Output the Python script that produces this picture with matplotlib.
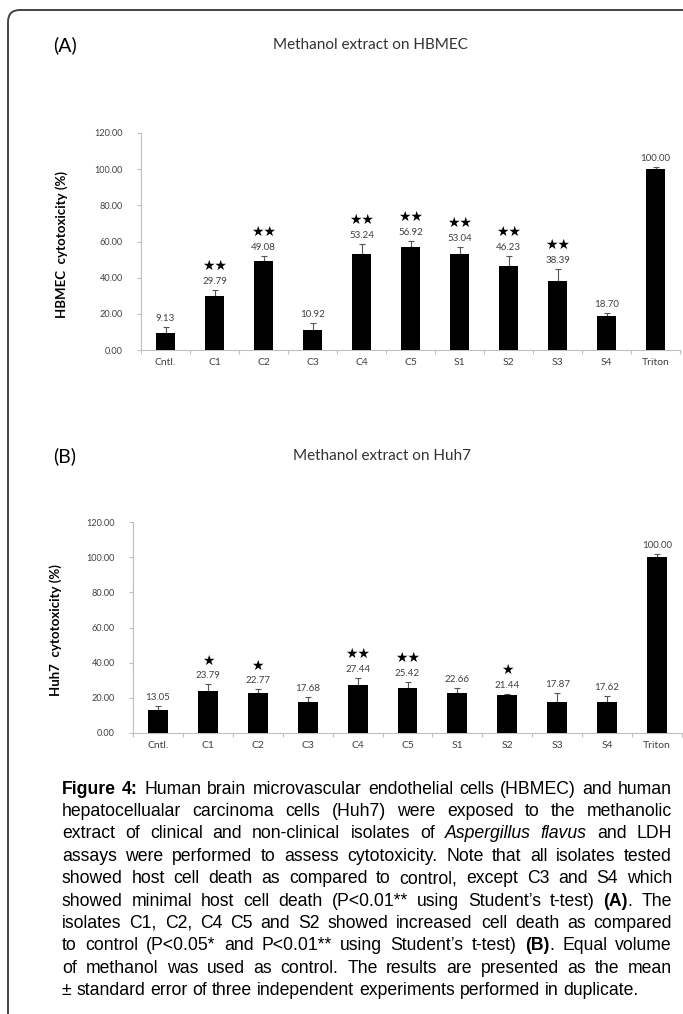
import re
import numpy as np
import matplotlib
matplotlib.use("Agg")
import matplotlib.pyplot as plt
from matplotlib.patches import FancyBboxPatch

W, H = 683, 1014

cats = ["Cntl.", "C1", "C2", "C3", "C4", "C5", "S1", "S2", "S3", "S4", "Triton"]

# panel A: HBMEC
hbmec = [9.13, 29.79, 49.08, 10.92, 53.24, 56.92, 53.04, 46.23, 38.39, 18.70, 100.00]
hbmec_err = [3.7, 3.5, 2.9, 3.8, 5.5, 3.3, 4.1, 5.6, 6.3, 1.8, 1.1]
hbmec_stars = ["", "★★", "★★", "", "★★", "★★", "★★", "★★", "★★", "", ""]

# panel B: Huh7
huh7 = [13.05, 23.79, 22.77, 17.68, 27.44, 25.42, 22.66, 21.44, 17.87, 17.62, 100.00]
huh7_err = [2.2, 3.8, 2.0, 2.7, 3.8, 3.5, 3.0, 0.7, 4.8, 3.2, 1.9]
huh7_stars = ["", "★", "★", "", "★★", "★★", "", "★", "", "", ""]

yticks = [0, 20, 40, 60, 80, 100, 120]

caption = [
    "<b>Figure 4:</b> Human brain microvascular endothelial cells (HBMEC) and human",
    "hepatocellualar carcinoma cells (Huh7) were exposed to the methanolic",
    "extract of clinical and non-clinical isolates of <i>Aspergillus flavus</i> and LDH",
    "assays were performed to assess cytotoxicity. Note that all isolates tested",
    "showed host cell death as compared to control, except C3 and S4 which",
    "showed minimal host cell death (P<0.01** using Student\u2019s t-test) <b>(A)</b>. The",
    "isolates C1, C2, C4 C5 and S2 showed increased cell death as compared",
    "to control (P<0.05* and P<0.01** using Student\u2019s t-test) <b>(B)</b>. Equal volume",
    "of methanol was used as control. The results are presented as the mean",
    "\u00b1 standard error of three independent experiments performed in duplicate.",
]

CH = "Lato"
GRAY = "#404040"

fig = plt.figure(figsize=(W / 100, H / 100), dpi=100)

# background frame (right side runs off the picture)
bg = fig.add_axes([0, 0, 1, 1], zorder=-5)
bg.set_xlim(0, W)
bg.set_ylim(H, 0)
bg.axis("off")
bg.add_patch(FancyBboxPatch((8, 10), 700, 1100, boxstyle="round,pad=0,rounding_size=12",
                            fill=False, ec="#444444", lw=1.4))


def px_axes(x0, y0, x1, y1):
    return fig.add_axes([x0 / W, 1 - y1 / H, (x1 - x0) / W, (y1 - y0) / H])


def panel(box, vals, errs, stars, letter, title, ylab, ylab_x, ylab_y, title_x, title_y):
    ax = px_axes(*box)
    x = np.arange(len(cats))
    ax.bar(x, vals, width=0.4, color="black", zorder=3,
           yerr=[np.zeros(len(vals)), errs], capsize=2,
           error_kw=dict(ecolor="#555555", elinewidth=0.8, capthick=0.8, zorder=2))
    ax.set_xlim(-0.5, len(cats) - 0.5)
    ax.set_ylim(0, 120)
    ax.set_yticks(yticks)
    ax.set_yticklabels([f"{t:.2f}" for t in yticks], fontsize=6.6, color=GRAY, family=CH)
    ax.set_xticks(x)
    ax.set_xticklabels(cats, fontsize=7.5, color=GRAY, family=CH)
    ax.set_xticks(np.arange(len(cats) + 1) - 0.5, minor=True)
    ax.tick_params(axis="x", which="major", length=0, pad=6)
    ax.tick_params(axis="x", which="minor", length=3, color="#bfbfbf", width=0.8)
    ax.tick_params(axis="y", length=3, color="#bfbfbf", width=0.8, pad=10)
    for s in ["top", "right"]:
        ax.spines[s].set_visible(False)
    for s in ["left", "bottom"]:
        ax.spines[s].set_color("#bfbfbf")
        ax.spines[s].set_linewidth(0.8)
    for i, (v, e, st) in enumerate(zip(vals, errs, stars)):
        ax.annotate(f"{v:.2f}", (i, v + e), xytext=(0, 4), textcoords="offset pixels",
                    ha="center", va="bottom", fontsize=7, color=GRAY, family=CH)
        if st:
            ax.annotate(st, (i, v + e), xytext=(0, 17), textcoords="offset pixels",
                        ha="center", va="bottom", fontsize=10, color="black",
                        family="DejaVu Sans")
    fig.text(ylab_x / W, 1 - ylab_y / H, ylab, rotation=90, ha="center", va="center",
             fontsize=9.5, fontweight="bold", family=CH, color="black")
    fig.text(65 / W, 1 - title_y / H, letter, ha="center", va="center",
             fontsize=14, family=CH, color="black")
    fig.text(title_x / W, 1 - title_y / H, title, ha="center", va="center",
             fontsize=11, family=CH, color="#333333")
    return ax


panel((141, 133, 680, 350), hbmec, hbmec_err, hbmec_stars, "(A)",
      "Methanol extract on HBMEC", "HBMEC  cytotoxicity (%)", 62, 245, 370, 45)
panel((133, 522, 682, 733), huh7, huh7_err, huh7_stars, "(B)",
      "Methanol extract on Huh7", "Huh7  cytotoxicity (%)", 56, 630, 382, 456)


# justified caption
def parse_words(line):
    runs = []
    for part in re.split(r"(<b>.+?</b>|<i>.+?</i>)", line):
        if not part:
            continue
        if part.startswith("<b>"):
            runs.append((part[3:-4], "bold"))
        elif part.startswith("<i>"):
            runs.append((part[3:-4], "italic"))
        else:
            runs.append((part, "normal"))
    words = [[]]
    for txt, st in runs:
        chunks = txt.split(" ")
        for k, c in enumerate(chunks):
            if k > 0:
                words.append([])
            if c:
                words[-1].append((c, st))
    return [w for w in words if w]


renderer = fig.canvas.get_renderer()
CAP_FONT = "Liberation Sans"


def make_text(s, st, fs):
    return fig.text(0, 0, s, fontsize=fs, family=CAP_FONT, color="black",
                    fontweight="bold" if st == "bold" else "normal",
                    fontstyle="italic" if st == "italic" else "normal",
                    va="center", ha="left")


def width_of(t):
    return t.get_window_extent(renderer=renderer).width


# fit font size to the last (unjustified) line width
probe = make_text(caption[-1], "normal", 12)
fs = 12 * 580 / width_of(probe)
probe.remove()

t2 = make_text("a a", "normal", fs)
t1 = make_text("aa", "normal", fs)
sp = width_of(t2) - width_of(t1)
t2.remove()
t1.remove()

left, right = 62, 672
top_y, step = 789, 22.4

for li, line in enumerate(caption):
    words = parse_words(line)
    items = []
    for w in words:
        ts = [make_text(s, st, fs) for s, st in w]
        ws = [width_of(t) for t in ts]
        items.append((ts, ws))
    total = sum(sum(ws) for _, ws in items)
    if li < len(caption) - 1 and len(items) > 1:
        gap = (right - left - total) / (len(items) - 1)
    else:
        gap = sp
    xcur = left
    y = 1 - (top_y + li * step) / H
    for ts, ws in items:
        for t, w in zip(ts, ws):
            t.set_position((xcur / W, y))
            xcur += w
        xcur += gap

fig.savefig("out.png", dpi=100)
